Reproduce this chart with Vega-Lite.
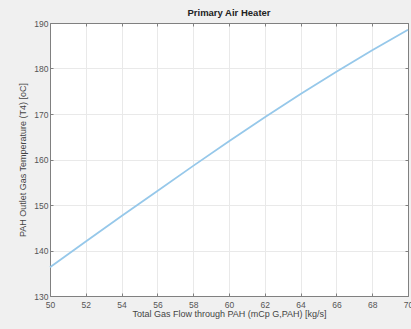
{
  "$schema": "https://vega.github.io/schema/vega-lite/v6.json",
  "width": 358,
  "height": 273,
  "autosize": "none",
  "padding": {"left": 50, "top": 23, "right": 3, "bottom": 33},
  "background": "#f0f0f0",
  "title": {
    "text": "Primary Air Heater",
    "font": "Liberation Sans",
    "fontSize": 9.5,
    "fontWeight": "bold",
    "color": "#222222",
    "offset": 2,
    "anchor": "middle"
  },
  "config": {
    "view": {"fill": "white", "stroke": null},
    "axis": {
      "labelFont": "Liberation Sans",
      "titleFont": "Liberation Sans",
      "labelFontSize": 8.5,
      "titleFontSize": 9,
      "labelColor": "#555555",
      "titleColor": "#444444",
      "titleFontWeight": "normal",
      "domainColor": "#808080",
      "tickColor": "#808080",
      "tickSize": -3,
      "gridColor": "#e9e9e9",
      "gridWidth": 1
    }
  },
  "data": {
    "values": [
      {"flow": 50, "temp": 136.3},
      {"flow": 52, "temp": 142.0},
      {"flow": 54, "temp": 147.6},
      {"flow": 56, "temp": 153.1},
      {"flow": 58, "temp": 158.6},
      {"flow": 60, "temp": 164.0},
      {"flow": 62, "temp": 169.3},
      {"flow": 64, "temp": 174.4},
      {"flow": 66, "temp": 179.3},
      {"flow": 68, "temp": 184.0},
      {"flow": 70, "temp": 188.5}
    ]
  },
  "layer": [
    {
      "mark": {"type": "line", "color": "#96c8ea", "strokeWidth": 1.8},
      "encoding": {
        "x": {
          "field": "flow", "type": "quantitative",
          "scale": {"domain": [50, 70], "nice": false, "zero": false},
          "axis": {
            "title": "Total Gas Flow through PAH (mCp G,PAH) [kg/s]",
            "values": [50, 52, 54, 56, 58, 60, 62, 64, 66, 68, 70],
            "labelPadding": 7,
            "titlePadding": 1,
            "grid": true,
            "labelFlush": false
          }
        },
        "y": {
          "field": "temp", "type": "quantitative",
          "scale": {"domain": [130, 190], "nice": false, "zero": false},
          "axis": {
            "title": "PAH Outlet Gas Temperature (T4) [oC]",
            "values": [130, 140, 150, 160, 170, 180, 190],
            "labelPadding": 5,
            "titlePadding": 6,
            "grid": true,
            "labelFlush": false
          }
        }
      }
    },
    {
      "mark": {"type": "line", "opacity": 0},
      "encoding": {
        "x": {
          "field": "flow", "type": "quantitative",
          "scale": {"domain": [50, 70], "nice": false, "zero": false},
          "axis": {"orient": "top", "title": null, "labels": false, "grid": false, "values": [50, 52, 54, 56, 58, 60, 62, 64, 66, 68, 70]}
        },
        "y": {
          "field": "temp", "type": "quantitative",
          "scale": {"domain": [130, 190], "nice": false, "zero": false},
          "axis": {"orient": "right", "title": null, "labels": false, "grid": false, "values": [130, 140, 150, 160, 170, 180, 190]}
        }
      }
    }
  ],
  "resolve": {"axis": {"x": "independent", "y": "independent"}}
}
